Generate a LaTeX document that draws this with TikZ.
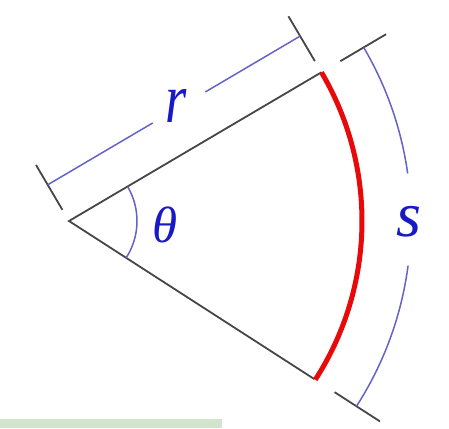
\documentclass[tikz,border=0pt]{standalone}
\usepackage{fontspec}
\setmainfont{Liberation Serif}
\usetikzlibrary{calc}
\definecolor{edgegray}{RGB}{70,70,70}
\definecolor{dimblue}{RGB}{100,100,200}
\definecolor{labblue}{RGB}{25,25,200}
\definecolor{arcred}{RGB}{232,10,10}
\definecolor{bargreen}{RGB}{208,229,203}
\begin{document}
\begin{tikzpicture}[x=1pt,y=-1pt,
  edge/.style={draw=edgegray,line width=1.8pt},
  tick/.style={draw=edgegray,line width=1.8pt},
  dimline/.style={draw=dimblue,line width=1.5pt},
  lab/.style={text=labblue,inner sep=0pt}]
\useasboundingbox (0,0) rectangle (449,428);
\fill[white] (0,0) rectangle (449,428);
\fill[bargreen] (0,419) rectangle (222,428);
% geometry
\coordinate (O) at (69,221);
\coordinate (A) at ($(O)+(-30.5:293)$);
\coordinate (B) at ($(O)+(32.8:292)$);
% radii
\draw[edge] (A) -- (O) -- (B);
% red arc
\draw[arcred,line width=5pt] (A) arc[start angle=-30.5,end angle=32.8,radius=293];
% theta arc
\draw[dimline] ($(O)+(-30.5:68)$) arc[start angle=-30.5,end angle=32.8,radius=68];
\node[lab] (th) at (165,225) {\fontsize{51}{51}\selectfont\itshape θ};
% r dimension
\coordinate (n) at (-0.5075,-0.8616);
\coordinate (u) at (0.8616,-0.5075);
\coordinate (T1a) at ($(O)+13*(n)$);
\coordinate (T1b) at ($(O)+65*(n)$);
\coordinate (T2a) at ($(A)+13*(n)$);
\coordinate (T2b) at ($(A)+65*(n)$);
\draw[tick] (T1a) -- (T1b);
\draw[tick] (T2a) -- (T2b);
\coordinate (D1) at ($(O)+42*(n)$);
\coordinate (D2) at ($(A)+42*(n)$);
\coordinate (G1) at ($(D1)+122*(u)$);
\coordinate (G2) at ($(D1)+183*(u)$);
\draw[dimline] (D1) -- (G1);
\draw[dimline] (G2) -- (D2);
\node[lab] (r) at (176,106) {\scalebox{1.05}[1.35]{\fontsize{52}{52}\selectfont\itshape r}};
% s dimension
\draw[tick] ($(O)+(-30.5:315)$) -- ($(O)+(-30.5:368)$);
\draw[tick] ($(O)+(32.8:316)$) -- ($(O)+(32.8:370)$);
\draw[dimline] ($(O)+(-30.5:342)$) arc[start angle=-30.5,end angle=-8,radius=342];
\draw[dimline] ($(O)+(7.5:342)$) arc[start angle=7.5,end angle=32.8,radius=342];
\node[lab] (s) at (409,222) {\fontsize{64}{64}\selectfont\itshape s};
\end{tikzpicture}
\end{document}
